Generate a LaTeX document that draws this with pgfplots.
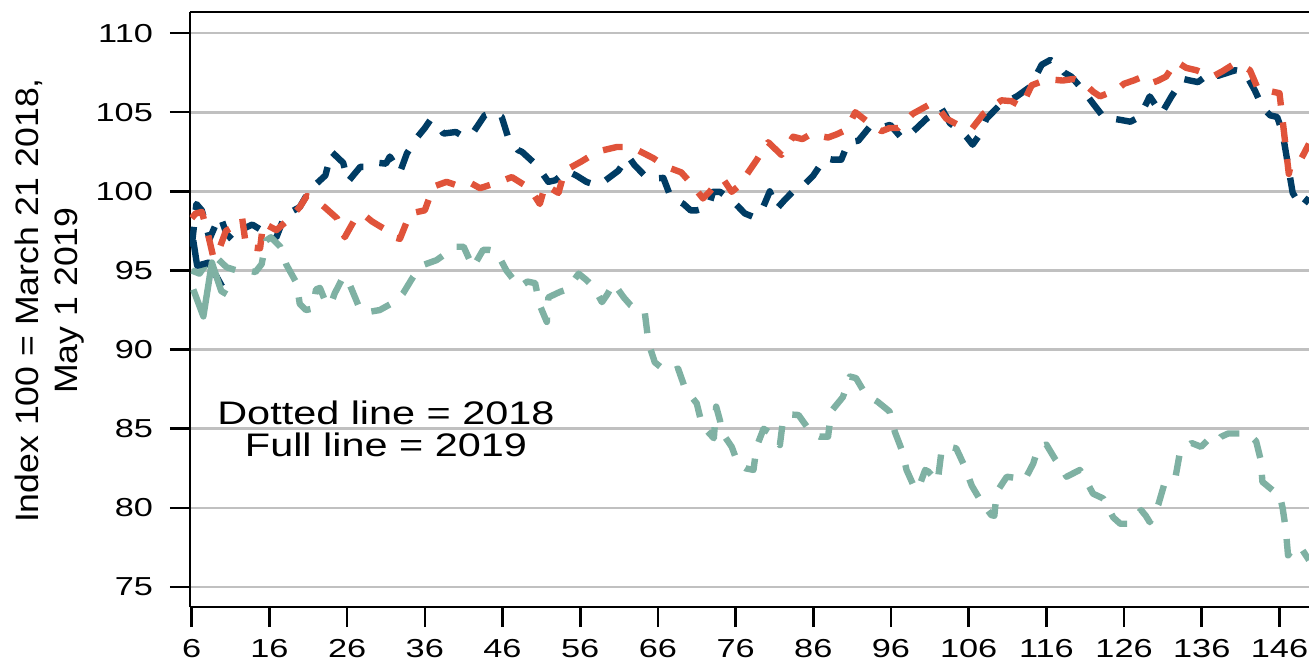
\documentclass[border=0pt]{standalone}
\usepackage{fontspec}
\setmainfont{Liberation Sans}
\newfontfamily\tickfont{Liberation Sans}[FakeStretch=1.32]
\newfontfamily\annfont{Liberation Sans}[FakeStretch=1.27]
\newfontfamily\labfont{Liberation Sans}[FakeStretch=1.1]
\usepackage{pgfplots}
\pgfplotsset{compat=1.18}
\definecolor{cblue}{HTML}{003C64}
\definecolor{cred}{HTML}{E0533A}
\definecolor{cteal}{HTML}{7FB1A3}
\definecolor{gridgray}{HTML}{C0C0C0}
\begin{document}
\begin{tikzpicture}
\begin{axis}[
  scale only axis,
  width=559.5pt, height=297.5pt,
  xmin=5.78, xmax=149.8,
  ymin=73.74, ymax=111.33,
  axis x line*=box, axis y line*=left,
  xtick pos=bottom, ytick pos=left,
  xtick={6,16,...,146},
  ytick={75,80,...,110},
  tick align=outside,
  major tick length=10pt,
  tick style={line width=1.3pt, black},
  axis line style={line width=1.3pt, black},
  ymajorgrids,
  grid style={line width=1.4pt, gridgray},
  /pgf/number format/assume math mode=true,
  tick label style={font=\tickfont\fontsize{13}{15}\selectfont},
  xticklabel style={yshift=-2.5pt},
  yticklabel style={xshift=-5pt},
  ylabel={Index 100 = March 21 2018,\\May 1 2019},
  ylabel style={at={(axis description cs:-0.125,0.515)}, anchor=center, rotate=0, align=center, font=\labfont\fontsize{16.2}{19.5}\selectfont},
  every axis plot/.append style={line width=3.2pt, dash pattern=on 10pt off 8.5pt, line join=round},
]
% Dark blue, 2018 (dashed)
\addplot[cblue] coordinates {
(6.0,96.5)(6.6,99.2)(7.3,98.8)(8.3,97.0)(9.0,97.8)(9.7,98.4)(10.5,97.3)(11.3,96.9)(11.9,97.5)
(12.9,97.7)(13.8,97.9)(14.8,97.6)(16.0,97.6)(16.9,97.1)(18.0,98.5)(19.9,99.0)(21.2,100.1)
(23.2,101.0)(24.0,102.5)(25.5,101.8)(26.1,100.6)(27.7,101.55)(29.0,101.55)(30.0,101.8)
(31.0,101.75)(31.5,102.2)(32.8,101.2)(33.7,102.4)(35.0,103.4)(36.0,104.0)(36.7,104.5)
(37.5,104.3)(38.4,103.65)(40.0,103.75)(41.0,103.45)(42.2,103.7)(43.7,104.8)(44.8,105.0)
(45.9,104.7)(46.7,103.45)(48.0,102.6)(48.5,102.5)(50.4,101.65)(51.9,100.6)(52.8,100.7)
(54.3,101.3)(55.5,101.0)(56.8,100.6)(58.0,100.4)(59.0,100.6)(60.9,101.3)(62.2,102.2)
(63.0,101.65)(64.7,100.8)(66.7,100.85)(67.6,99.7)(69.3,99.2)(70.2,98.8)(71.0,98.8)
(72.5,99.0)(73.1,99.97)(74.0,99.97)(75.0,99.6)(76.0,99.2)(77.2,98.6)(78.2,98.4)(79.2,98.6)
(80.4,100.0)(81.3,98.9)(82.3,99.45)(83.8,100.2)(85.0,100.5)(86.0,101.0)(87.5,102.1)
(88.5,102.0)(89.6,102.0)(90.5,103.1)(91.8,103.2)(93.3,104.1)(94.5,104.0)(95.9,104.2)
(97.4,103.35)(98.2,103.5)(99.1,103.9)(100.6,104.6)(101.5,104.9)(102.5,105.25)(103.6,104.3)
(105.0,103.8)(105.7,103.45)(106.5,102.95)(107.3,103.5)(108.3,104.6)(110.0,105.45)
(111.0,105.7)(112.2,106.0)(113.9,106.6)(115.4,108.0)(116.5,108.3)(117.5,108.0)(118.3,107.5)
(119.2,107.25)(120.7,106.4)(122.0,105.55)(123.5,104.6)(124.5,104.6)(125.7,104.5)
(126.8,104.4)(128.0,104.7)(129.3,106.0)(130.8,104.9)(132.1,106.0)(133.6,107.1)(134.5,107.0)
(135.5,106.9)(137.0,107.45)(138.1,107.3)(140.3,107.65)(141.5,107.55)(142.8,106.4)
(143.9,105.25)(144.8,104.8)(145.7,104.7)(146.4,103.7)(147.7,99.9)(148.8,99.0)(149.8,99.6)
};
% Red, 2018 (dashed)
\addplot[cred] coordinates {
(6.0,98.3)(6.5,98.6)(7.3,98.7)(8.0,97.5)(8.8,95.8)(9.5,96.3)(10.4,97.5)(11.3,97.75)
(12.5,98.3)(13.0,96.5)(14.8,96.4)(15.2,98.0)(16.9,97.55)(18.4,98.2)(19.9,99.0)(20.8,99.7)
(21.6,99.6)(23.1,99.0)(24.7,98.3)(25.7,97.1)(26.5,97.8)(27.2,98.4)(28.2,98.5)(29.2,98.1)
(30.2,97.8)(31.1,97.55)(32.0,97.1)(32.8,97.0)(34.1,98.6)(36.0,98.8)(37.1,100.3)(38.8,100.6)
(40.0,100.4)(41.0,100.4)(42.0,100.5)(43.1,100.2)(45.0,100.5)(47.2,100.9)(48.5,100.5)
(49.5,100.2)(50.8,99.2)(51.5,100.4)(53.2,99.9)(54.0,101.3)(56.2,101.9)(57.2,102.2)
(58.1,102.5)(60.7,102.8)(62.0,102.8)(63.0,102.7)(65.4,102.1)(66.3,101.8)(67.1,101.55)
(69.0,101.2)(70.1,100.6)(71.8,99.55)(72.7,100.0)(73.5,100.5)(74.5,100.7)(75.5,99.97)
(76.3,100.3)(77.2,100.9)(78.7,101.97)(79.5,102.6)(80.2,103.1)(81.9,102.3)(82.7,102.9)
(83.4,103.45)(84.6,103.3)(85.8,103.65)(86.8,103.5)(87.9,103.4)(89.0,103.6)(90.3,103.9)
(91.4,105.0)(93.5,104.2)(94.8,103.8)(95.8,104.0)(96.9,104.0)(98.8,104.9)(101.2,105.55)
(102.2,105.2)(103.1,104.6)(105.0,104.1)(106.4,103.95)(107.9,104.9)(109.0,105.3)
(110.2,105.75)(111.5,105.7)(112.8,105.35)(114.1,106.7)(116.2,107.1)(117.0,107.05)
(118.1,107.0)(119.5,107.1)(120.7,106.9)(122.0,106.3)(122.9,106.0)(125.0,106.4)(126.0,106.8)
(127.2,107.0)(128.2,107.2)(129.3,106.8)(130.4,107.0)(131.4,107.25)(132.7,108.2)(134.0,107.8)
(135.3,107.65)(137.4,107.25)(138.7,107.6)(140.0,108.0)(141.0,108.0)(142.2,107.65)
(143.2,106.5)(146.0,106.2)(147.2,101.1)(147.4,101.55)(148.7,101.97)(149.8,103.0)
};
% Teal, 2018 (dashed)
\addplot[cteal] coordinates {
(6.0,95.0)(7.0,94.8)(8.0,95.5)(9.0,95.9)(10.5,95.2)(11.8,95.0)(13.3,95.0)(14.2,94.9)
(15.0,95.4)(15.6,96.9)(16.2,97.1)(17.4,96.5)(18.2,95.35)(19.5,94.2)(19.9,92.9)(20.7,92.5)
(21.6,92.6)(22.0,93.8)(22.5,93.9)(23.4,92.8)(24.0,93.0)(24.4,93.55)(25.5,94.6)(26.0,94.5)
(26.6,93.8)(27.7,92.5)(29.0,92.4)(30.2,92.5)(32.4,93.1)(33.2,93.55)(34.5,94.6)(35.8,95.35)
(37.5,95.65)(38.8,96.1)(40.0,96.5)(41.0,96.5)(42.2,95.2)(43.5,96.3)(44.3,96.3)(45.2,96.2)
(46.5,95.0)(47.3,94.5)(48.2,93.97)(49.2,94.3)(50.2,94.2)(50.8,92.8)(51.7,91.75)(51.9,93.3)
(53.4,93.65)(54.3,93.8)(55.8,94.8)(56.8,94.4)(57.7,93.97)(58.8,93.0)(59.5,93.5)(60.3,94.2)
(61.6,93.3)(62.5,92.8)(63.5,92.5)(64.3,92.4)(64.8,90.4)(65.6,89.2)(66.6,88.8)(67.6,88.6)
(68.6,88.8)(69.5,87.55)(71.0,86.6)(71.7,85.2)(73.2,84.4)(73.5,86.4)(74.0,85.5)(74.2,84.8)
(75.5,83.86)(76.3,82.8)(77.3,82.5)(78.3,82.4)(78.7,83.86)(79.6,85.0)(80.6,84.7)(81.7,83.97)
(82.1,85.55)(83.1,85.9)(84.1,85.87)(85.8,84.7)(86.8,84.5)(87.9,84.5)(88.3,86.1)(89.8,87.0)
(90.7,88.3)(91.5,88.2)(92.4,87.45)(93.3,87.0)(94.3,86.7)(95.8,86.1)(96.5,84.8)(97.4,83.65)
(98.0,82.4)(99.1,81.2)(99.5,81.2)(100.4,82.4)(100.8,82.3)(102.0,81.65)(102.5,83.6)
(103.3,83.9)(104.4,83.76)(105.5,82.6)(106.4,81.4)(107.0,80.9)(107.6,80.4)(108.9,79.55)
(109.3,79.5)(109.6,81.0)(110.9,81.97)(112.0,81.9)(113.2,81.76)(114.3,82.8)(115.0,83.86)
(116.0,84.0)(117.1,83.1)(118.0,82.5)(118.6,81.97)(120.3,82.4)(120.7,82.1)(122.0,80.9)
(123.3,80.6)(124.6,79.4)(125.5,79.0)(126.5,79.0)(128.2,79.86)(128.8,79.5)(129.3,79.1)
(130.4,80.2)(131.2,81.55)(132.6,81.9)(133.2,83.55)(134.7,84.1)(135.9,83.86)(136.8,84.3)
(137.7,84.1)(138.5,84.5)(139.4,84.7)(142.0,84.7)(143.0,84.2)(143.6,83.0)(143.8,81.65)
(145.4,81.0)(146.0,80.9)(146.4,80.0)(146.8,78.7)(147.1,77.0)(147.9,77.55)(148.8,77.45)
(149.8,76.7)
};
% 2019 (full lines)
\addplot[cblue, solid] coordinates {(6.2,96.9)(6.7,95.3)(8.2,95.5)(9.9,94.0)};
\addplot[cteal, solid] coordinates {(6.2,93.8)(7.5,92.1)(8.6,95.5)(9.8,93.7)(10.5,93.5)};
\node[align=center, font=\annfont\fontsize{16.3}{16}\selectfont] at (axis cs:31,85) {Dotted line = 2018\\Full line = 2019};
\end{axis}
\pgfresetboundingbox
\path ([xshift=-95pt,yshift=-29pt]current axis.south west) rectangle ([yshift=6pt]current axis.north east);
\end{tikzpicture}
\end{document}
